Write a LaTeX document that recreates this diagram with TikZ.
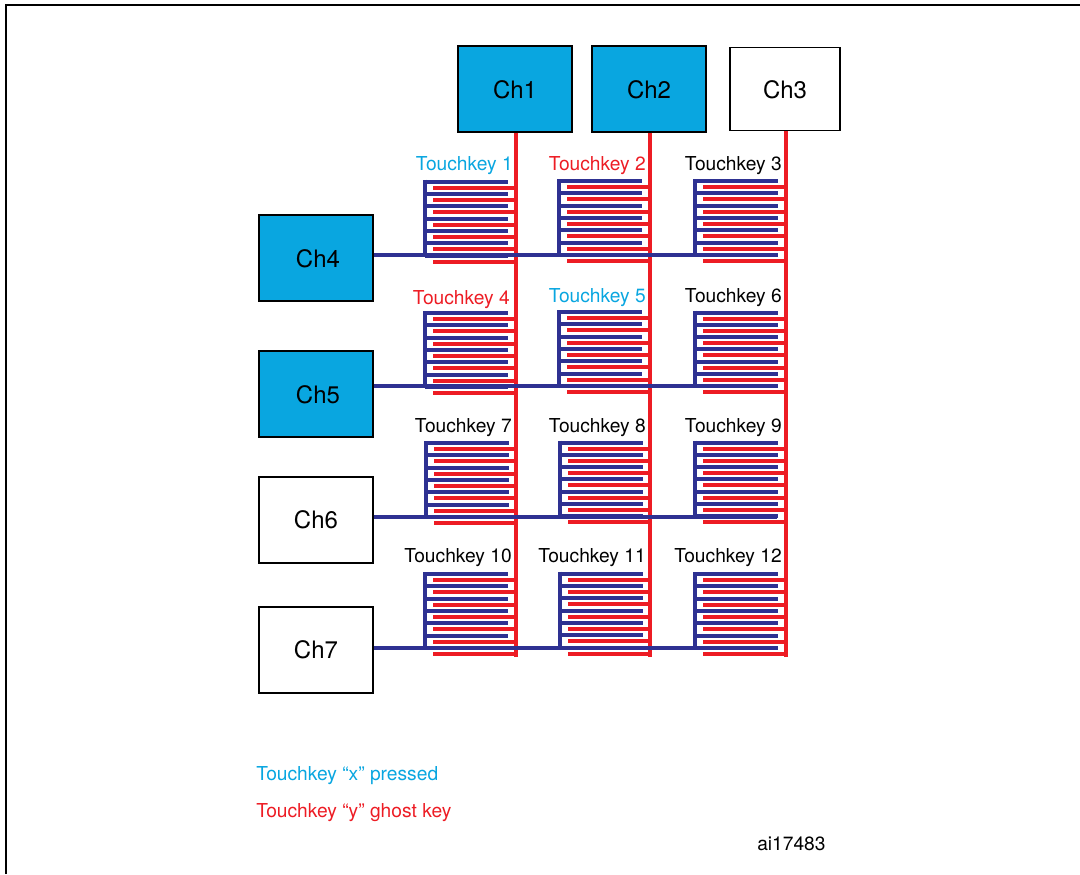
\documentclass[tikz,border=0pt]{standalone}
\usepackage{fontspec}
\setmainfont{TeX Gyre Heros}
\usepackage{xcolor}
\usetikzlibrary{positioning, calc}
\definecolor{keycyan}{HTML}{09A6E0}
\definecolor{keyred}{HTML}{ED1C24}
\definecolor{keyblue}{HTML}{2E3192}

\begin{document}
\begin{tikzpicture}[
    x=0.75pt, y=-0.75pt,
    node_ch/.style={rectangle, draw=black, line width=1.6pt, minimum width=85pt, minimum height=64pt, inner sep=0pt, text height=14.5pt, font=\fontsize{18}{20}\selectfont},
    node_key/.style={anchor=east, inner sep=0pt, font=\fontsize{14.4}{16}\selectfont},
    node_note/.style={anchor=west, inner sep=0pt, font=\fontsize{14.4}{16}\selectfont},
    blue_line/.style={draw=keyblue, line width=2.9pt},
    red_line/.style={draw=keyred, line width=3pt}
]
\useasboundingbox (0,0) rectangle (1080,874);
\draw[line width=1.5pt] (6,874) -- (6,5) -- (1080,5);

\node[node_ch, fill=keycyan] (Ch1) at (515,89)  {Ch1};
\node[node_ch, fill=keycyan] (Ch2) at (649,89)  {Ch2};
\node[node_ch, line width=1pt, minimum width=82.5pt, minimum height=62.5pt] (Ch3) at (785,89) {Ch3};
\node[node_ch, fill=keycyan] (Ch4) at (316,258) {\hspace{3pt}Ch4};
\node[node_ch, fill=keycyan] (Ch5) at (316,394) {\hspace{3pt}Ch5};
\node[node_ch, text height=13pt] (Ch6) at (316,520) {Ch6\hspace{8pt}};
\node[node_ch, text height=13pt] (Ch7) at (316,650) {Ch7\hspace{8pt}};

% vertical channel lines
\coordinate (end1) at (516,657);
\coordinate (end2) at (650,657);
\coordinate (end3) at (785.5,657);
\draw[red_line] (end1 |- Ch1.south) -- (end1);
\draw[red_line] (end2 |- Ch2.south) -- (end2);
\draw[red_line] (end3 |- Ch3.south) -- (end3);

% touchkeys: number/colour/label x/label y/spine x/top y
\foreach \n/\c/\lx/\ly/\sx/\ty in {
    1/keycyan/513/166/425/181.7, 2/keyred/646/166/559/181, 3/black/782/166/695/181,
    4/keyred/510/300/425/313, 5/keycyan/646/298/559/312, 6/black/782/298/695/312.5,
    7/black/512/428/426/443, 8/black/646/428/560/442.5, 9/black/782/428/695/442.5,
    10/black/512/558/425/574, 11/black/646/558/560/573.7, 12/black/782/558/695/574} {
    \node[node_key, text=\c] (Key\n) at (\lx,\ly) {Touchkey \n};
    \foreach \i in {0,...,6} {
        \pgfmathsetmacro\by{round(\ty+12.3*\i)}
        \pgfmathsetmacro\ry{round(\ty+6+12.3*\i)}
        \draw[red_line, line width=2.9pt] (\sx+8,\ry) -- (\sx+90,\ry);
        \draw[blue_line] (\sx,\by) -- (\sx+83,\by);
    }
    \draw[blue_line] (\sx,\ty-2) -- (\sx,\ty+74);
}

% horizontal channel lines
\coordinate (bus4) at (777,255);
\coordinate (bus5) at (777,386);
\coordinate (bus6) at (777,517);
\coordinate (bus7) at (777,648);
\draw[blue_line] (Ch4.east |- bus4) -- (bus4);
\draw[blue_line] (Ch5.east |- bus5) -- (bus5);
\draw[blue_line] (Ch6.east |- bus6) -- (bus6);
\draw[blue_line] (Ch7.east |- bus7) -- (bus7);

\node[node_note, text=keycyan] (pressed) at (256,776) {Touchkey “x” pressed};
\node[node_note, text=keyred] (ghost) at (256,813) {Touchkey “y” ghost key};
\node[node_note] (ref) at (757,844) {ai17483};
\end{tikzpicture}
\end{document}
